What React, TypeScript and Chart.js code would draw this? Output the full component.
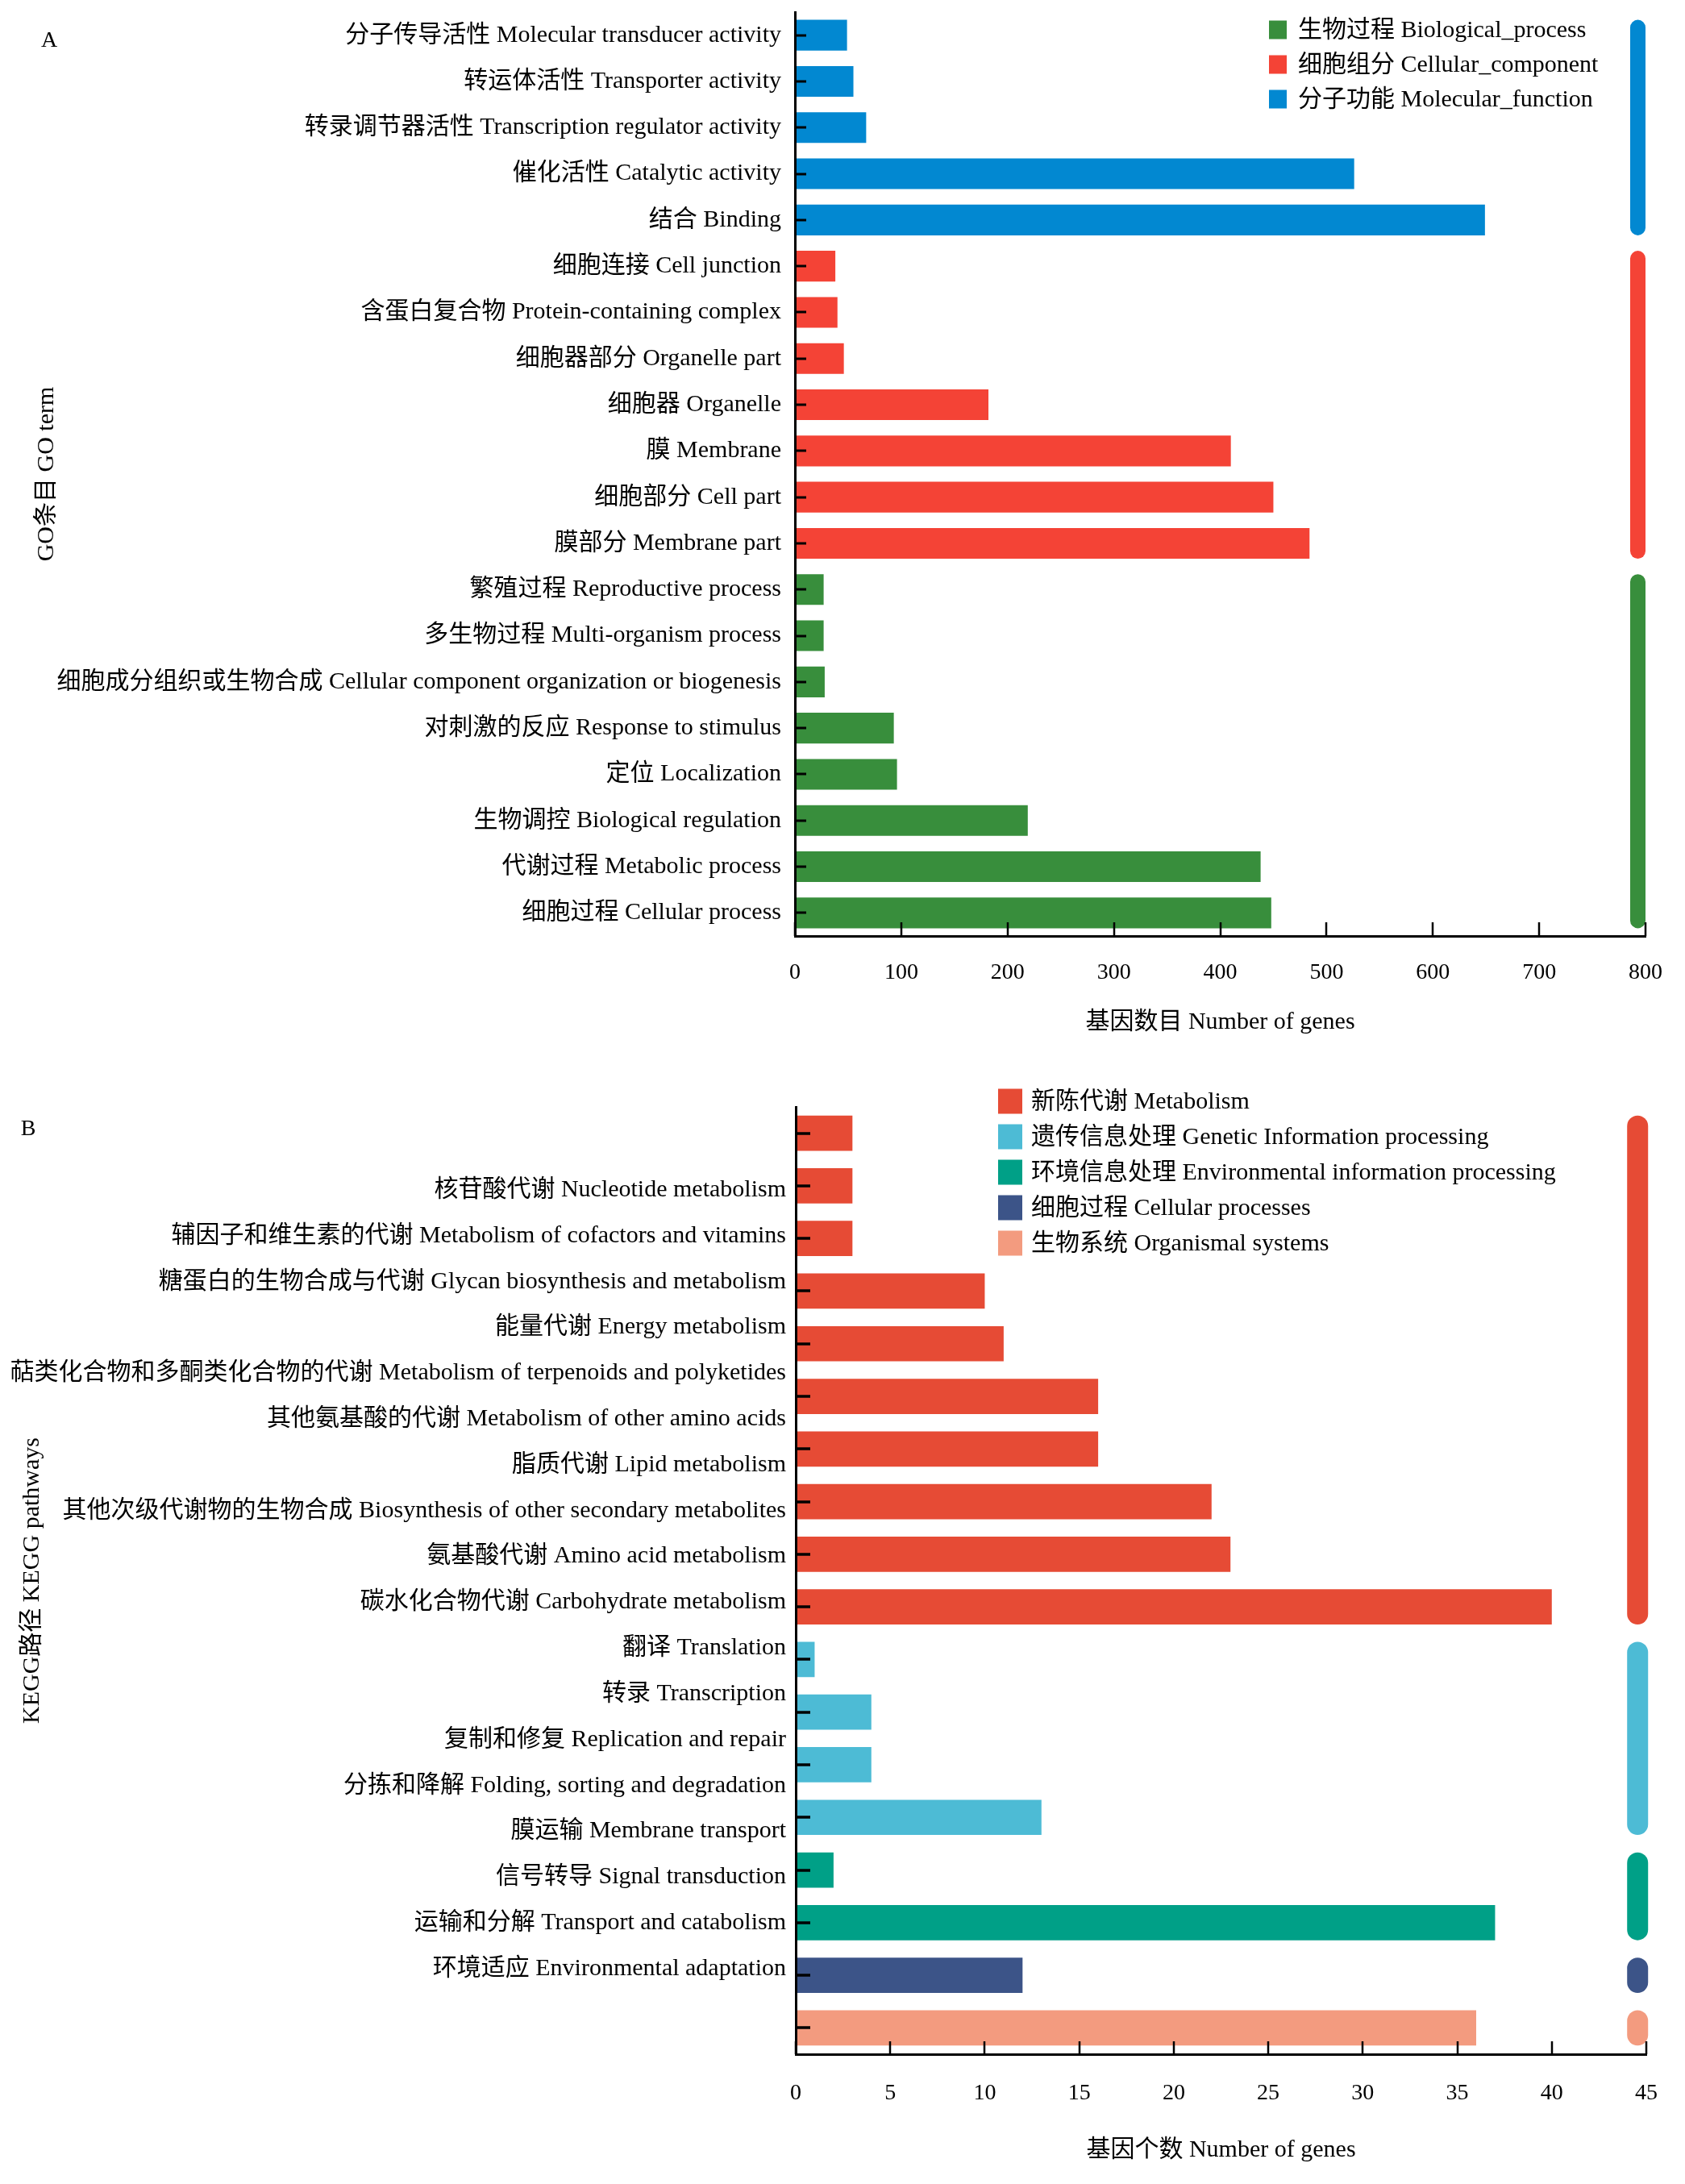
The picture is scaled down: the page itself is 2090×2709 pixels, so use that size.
import { useEffect, useRef } from 'react';
import { Chart, registerables } from 'chart.js';

Chart.register(...registerables);

// ---------------- Data: GO (panel A) ----------------
const goCategories = [
  '分子传导活性 Molecular transducer activity',
  '转运体活性 Transporter activity',
  '转录调节器活性 Transcription regulator activity',
  '催化活性 Catalytic activity',
  '结合 Binding',
  '细胞连接 Cell junction',
  '含蛋白复合物 Protein-containing complex',
  '细胞器部分 Organelle part',
  '细胞器 Organelle',
  '膜 Membrane',
  '细胞部分 Cell part',
  '膜部分 Membrane part',
  '繁殖过程 Reproductive process',
  '多生物过程 Multi-organism process',
  '细胞成分组织或生物合成 Cellular component organization or biogenesis',
  '对刺激的反应 Response to stimulus',
  '定位 Localization',
  '生物调控 Biological regulation',
  '代谢过程 Metabolic process',
  '细胞过程 Cellular process',
];
const goValues = [49, 55, 67, 526, 649, 38, 40, 46, 182, 410, 450, 484, 27, 27, 28, 93, 96, 219, 438, 448];
// 0 = Biological_process, 1 = Cellular_component, 2 = Molecular_function
const goGroup = [2, 2, 2, 2, 2, 1, 1, 1, 1, 1, 1, 1, 0, 0, 0, 0, 0, 0, 0, 0];
const goGroupNames = ['生物过程 Biological_process', '细胞组分 Cellular_component', '分子功能 Molecular_function'];
const goColors = ['#388E3C', '#F44336', '#0288D1'];
const goXTicks = [0, 100, 200, 300, 400, 500, 600, 700, 800];

// ---------------- Data: KEGG (panel B) ----------------
const keggCategories = [
  '核苷酸代谢 Nucleotide metabolism',
  '辅因子和维生素的代谢 Metabolism of cofactors and vitamins',
  '糖蛋白的生物合成与代谢 Glycan biosynthesis and metabolism',
  '能量代谢 Energy metabolism',
  '萜类化合物和多酮类化合物的代谢 Metabolism of terpenoids and polyketides',
  '其他氨基酸的代谢 Metabolism of other amino acids',
  '脂质代谢 Lipid metabolism',
  '其他次级代谢物的生物合成 Biosynthesis of other secondary metabolites',
  '氨基酸代谢 Amino acid metabolism',
  '碳水化合物代谢 Carbohydrate metabolism',
  '翻译 Translation',
  '转录 Transcription',
  '复制和修复 Replication and repair',
  '分拣和降解 Folding, sorting and degradation',
  '膜运输 Membrane transport',
  '信号转导 Signal transduction',
  '运输和分解 Transport and catabolism',
  '环境适应 Environmental adaptation',
];
const keggValues = [3, 3, 3, 10, 11, 16, 16, 22, 23, 40, 1, 4, 4, 13, 2, 37, 12, 36];
const keggGroup = [0, 0, 0, 0, 0, 0, 0, 0, 0, 0, 1, 1, 1, 1, 2, 2, 3, 4];
const keggGroupNames = [
  '新陈代谢 Metabolism',
  '遗传信息处理 Genetic Information processing',
  '环境信息处理 Environmental information processing',
  '细胞过程 Cellular processes',
  '生物系统 Organismal systems',
];
const keggColors = ['#E64B35', '#4DBBD5', '#00A087', '#3C5488', '#F39B7F'];
const keggXTicks = [0, 5, 10, 15, 20, 25, 30, 35, 40, 45];

// ---------------- Styling ----------------
const FONT_FAMILY = '"Liberation Serif", "Times New Roman", "Noto Sans CJK SC", serif';
const TXT = '#000000';
const PAGE_W = 2090;

function maskByGroup(values: number[], groups: number[], g: number) {
  return values.map((v, i) => (groups[i] === g ? v : null));
}

const inwardTicksPlugin = (o: { yScaleId: string; xLen: number; yLen: number; xW: number; yW: number }) => ({
  id: 'inwardTicks',
  afterDraw(chart: any) {
    const { ctx, chartArea } = chart;
    const xs = chart.scales.x;
    const ys = chart.scales[o.yScaleId];
    ctx.save();
    ctx.strokeStyle = '#000';
    ctx.lineWidth = o.xW;
    xs.ticks.forEach((t: any) => {
      const px = Math.round(xs.getPixelForValue(t.value));
      ctx.beginPath();
      ctx.moveTo(px, chartArea.bottom);
      ctx.lineTo(px, chartArea.bottom - o.xLen);
      ctx.stroke();
    });
    ctx.lineWidth = o.yW;
    (chart.data.labels as string[]).forEach((_, i) => {
      const py = Math.round(ys.getPixelForValue(i));
      ctx.beginPath();
      ctx.moveTo(chartArea.left, py);
      ctx.lineTo(chartArea.left + o.yLen, py);
      ctx.stroke();
    });
    ctx.restore();
  },
});

const groupMarkerPlugin = (o: { value: number; width: number }) => ({
  id: 'groupMarkers',
  afterDatasetsDraw(chart: any) {
    const ctx = chart.ctx;
    const xs = chart.scales.x;
    const cx = xs.getPixelForValue(o.value);
    chart.data.datasets.forEach((ds: any, di: number) => {
      const meta = chart.getDatasetMeta(di);
      const idx = ds.data.map((v: any, i: number) => (v == null ? -1 : i)).filter((i: number) => i >= 0);
      if (!idx.length) return;
      const first = meta.data[idx[0]];
      const last = meta.data[idx[idx.length - 1]];
      const top = first.y - first.height / 2;
      const bottom = last.y + last.height / 2;
      ctx.save();
      ctx.fillStyle = ds.backgroundColor;
      ctx.beginPath();
      ctx.roundRect(cx - o.width / 2, top, o.width, bottom - top, o.width / 2);
      ctx.fill();
      ctx.restore();
    });
  },
});

const legendPlugin = (o: { boxX: number; boxW: number; boxH: number; textX: number; y0: number; dy: number; size: number }) => ({
  id: 'customLegend',
  afterDraw(chart: any) {
    const ctx = chart.ctx;
    ctx.save();
    ctx.font = `${o.size}px ${FONT_FAMILY}`;
    ctx.textBaseline = 'middle';
    ctx.textAlign = 'left';
    chart.data.datasets.forEach((ds: any, i: number) => {
      const cy = o.y0 + i * o.dy;
      ctx.fillStyle = ds.backgroundColor;
      ctx.fillRect(o.boxX, cy - o.boxH / 2, o.boxW, o.boxH);
      ctx.fillStyle = TXT;
      ctx.fillText(ds.label, o.textX, cy + 1);
    });
    ctx.restore();
  },
});

const panelLabelPlugin = (text: string, x: number, y: number) => ({
  id: 'panelLabel',
  afterDraw(chart: any) {
    const ctx = chart.ctx;
    ctx.save();
    ctx.font = `28px ${FONT_FAMILY}`;
    ctx.fillStyle = TXT;
    ctx.textAlign = 'center';
    ctx.textBaseline = 'middle';
    ctx.fillText(text, x, y);
    ctx.restore();
  },
});

const f = (size: number) => ({ family: FONT_FAMILY, size });

function makeGoConfig(): any {
  return {
    type: 'bar',
    data: {
      labels: goCategories,
      datasets: goGroupNames.map((name, g) => ({
        label: name,
        data: maskByGroup(goValues, goGroup, g),
        backgroundColor: goColors[g],
        borderWidth: 0,
        grouped: false,
        barPercentage: 0.665,
        categoryPercentage: 1,
      })),
    },
    options: {
      indexAxis: 'y',
      animation: false,
      responsive: false,
      maintainAspectRatio: false,
      devicePixelRatio: 1,
      events: [],
      layout: { padding: { top: 15, right: 49, left: 0, bottom: 0 } },
      scales: {
        x: {
          type: 'linear',
          min: 0,
          max: 800,
          afterBuildTicks: (s: any) => {
            s.ticks = goXTicks.map((v) => ({ value: v }));
          },
          ticks: { font: f(28), color: TXT, padding: 29, maxRotation: 0 },
          grid: { display: false, drawTicks: false },
          border: { display: true, color: '#000', width: 3, z: 1 },
          title: {
            display: true,
            text: '基因数目 Number of genes',
            font: f(30),
            color: TXT,
            padding: { top: 0, bottom: 44 },
          },
          afterFit: (s: any) => {
            s.height = 169;
            s.paddingLeft = 0;
            s.paddingRight = 0;
          },
        },
        y: {
          type: 'category',
          ticks: { font: f(30), color: TXT, padding: 17, autoSkip: false },
          grid: { display: false, drawTicks: false },
          border: { display: true, color: '#000', width: 3, z: 1 },
          title: {
            display: true,
            text: 'GO条目 GO term',
            font: f(30),
            color: TXT,
            padding: { top: 40, bottom: 0 },
          },
          afterFit: (s: any) => {
            s.width = 986;
            s.paddingTop = 0;
            s.paddingBottom = 0;
          },
        },
      },
      plugins: { legend: { display: false }, tooltip: { enabled: false } },
    },
    plugins: [
      groupMarkerPlugin({ value: 792.8, width: 19 }),
      inwardTicksPlugin({ yScaleId: 'y', xLen: 17, yLen: 14, xW: 2.5, yW: 3 }),
      legendPlugin({ boxX: 1574, boxW: 22, boxH: 23, textX: 1610, y0: 37, dy: 43, size: 30 }),
      panelLabelPlugin('A', 61, 51),
    ],
  };
}

// KEGG label axis: labels are spread at their own spacing in the reference
const KEGG_LABEL_MIN = -1.813;
const KEGG_LABEL_MAX = 18.866;

function makeKeggConfig(): any {
  return {
    type: 'bar',
    data: {
      labels: keggCategories,
      datasets: keggGroupNames.map((name, g) => ({
        label: name,
        data: maskByGroup(keggValues, keggGroup, g),
        backgroundColor: keggColors[g],
        borderWidth: 0,
        grouped: false,
        barPercentage: 0.67,
        categoryPercentage: 1,
      })),
    },
    options: {
      indexAxis: 'y',
      animation: false,
      responsive: false,
      maintainAspectRatio: false,
      devicePixelRatio: 1,
      events: [],
      layout: { padding: { top: 43, right: 48, left: 0, bottom: 0 } },
      scales: {
        x: {
          type: 'linear',
          min: 0,
          max: 45,
          afterBuildTicks: (s: any) => {
            s.ticks = keggXTicks.map((v) => ({ value: v }));
          },
          ticks: { font: f(28), color: TXT, padding: 32, maxRotation: 0 },
          grid: { display: false, drawTicks: false },
          border: { display: true, color: '#000', width: 3, z: 1 },
          title: {
            display: true,
            text: '基因个数 Number of genes',
            font: f(30),
            color: TXT,
            padding: { top: 0, bottom: 24 },
          },
          afterFit: (s: any) => {
            s.height = 161;
            s.paddingLeft = 0;
            s.paddingRight = 0;
          },
        },
        y: {
          type: 'category',
          display: false,
        },
        yLabels: {
          type: 'linear',
          position: 'left',
          reverse: true,
          offset: false,
          beginAtZero: false,
          min: KEGG_LABEL_MIN,
          max: KEGG_LABEL_MAX,
          afterBuildTicks: (s: any) => {
            s.ticks = keggCategories.map((_, i) => ({ value: i }));
            s.min = KEGG_LABEL_MIN;
            s.max = KEGG_LABEL_MAX;
          },
          ticks: {
            font: f(30),
            color: TXT,
            padding: 12,
            autoSkip: false,
            callback: (v: any) => keggCategories[Number(v)] ?? '',
          },
          grid: { display: false, drawTicks: false, offset: false },
          border: { display: true, color: '#000', width: 3, z: 1 },
          title: {
            display: true,
            text: 'KEGG路径 KEGG pathways',
            font: f(30),
            color: TXT,
            padding: { top: 22, bottom: 0 },
          },
          afterFit: (s: any) => {
            s.width = 987;
            s.paddingTop = 0;
            s.paddingBottom = 0;
          },
        },
      },
      plugins: { legend: { display: false }, tooltip: { enabled: false } },
    },
    plugins: [
      groupMarkerPlugin({ value: 44.54, width: 26 }),
      inwardTicksPlugin({ yScaleId: 'y', xLen: 16, yLen: 18, xW: 2.5, yW: 3.5 }),
      legendPlugin({ boxX: 1238, boxW: 30, boxH: 31, textX: 1279, y0: 36, dy: 44, size: 30 }),
      panelLabelPlugin('B', 35, 71),
    ],
  };
}

function ChartCanvas({ makeConfig, top, height }: { makeConfig: () => any; top: number; height: number }) {
  const ref = useRef<HTMLCanvasElement>(null);
  useEffect(() => {
    if (!ref.current) return;
    const chart = new Chart(ref.current, makeConfig());
    return () => chart.destroy();
  }, [makeConfig]);
  return (
    <canvas
      ref={ref}
      width={PAGE_W}
      height={height}
      style={{ position: 'absolute', left: 0, top, width: PAGE_W, height, display: 'block' }}
    />
  );
}

export default function App() {
  return (
    <div style={{ position: 'absolute', left: 0, top: 0, width: PAGE_W, height: 2709, background: '#ffffff', overflow: 'hidden' }}>
      <ChartCanvas makeConfig={makeGoConfig} top={0} height={1330} />
      <ChartCanvas makeConfig={makeKeggConfig} top={1330} height={1379} />
    </div>
  );
}
